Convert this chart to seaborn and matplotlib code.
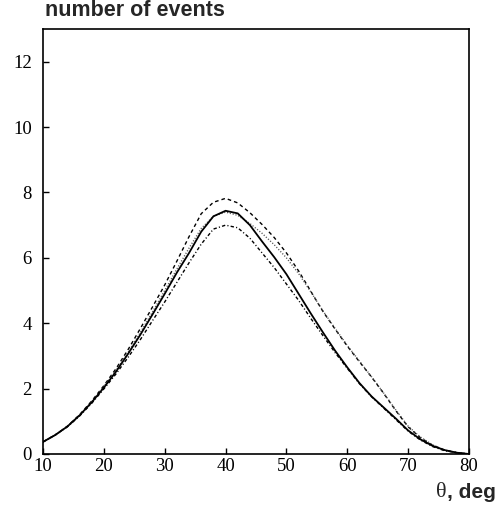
import matplotlib
matplotlib.use("Agg")
import matplotlib.pyplot as plt
import seaborn as sns
import pandas as pd

theta = [10, 12, 14, 16, 18, 20, 22, 24, 26, 28, 30, 32, 34, 36, 38, 40, 42, 44,
         46, 48, 50, 52, 54, 56, 58, 60, 62, 64, 66, 68, 70, 72, 74, 76, 78, 80]

solid = [0.37, 0.58, 0.84, 1.18, 1.58, 2.03, 2.52, 3.07, 3.65, 4.27, 4.90, 5.55,
         6.15, 6.80, 7.27, 7.44, 7.36, 7.00, 6.50, 6.02, 5.50, 4.90, 4.30, 3.72,
         3.16, 2.65, 2.17, 1.76, 1.42, 1.08, 0.72, 0.45, 0.25, 0.12, 0.04, 0.0]

dotted = [0.37, 0.58, 0.85, 1.19, 1.60, 2.06, 2.56, 3.12, 3.72, 4.35, 5.00, 5.66,
          6.30, 6.90, 7.27, 7.40, 7.30, 7.05, 6.75, 6.40, 6.00, 5.52, 4.96, 4.38,
          3.84, 3.32, 2.84, 2.36, 1.86, 1.34, 0.85, 0.52, 0.28, 0.12, 0.04, 0.0]

dashed = [0.37, 0.58, 0.85, 1.20, 1.62, 2.09, 2.61, 3.20, 3.84, 4.50, 5.17, 5.90,
          6.65, 7.35, 7.70, 7.82, 7.68, 7.38, 7.02, 6.62, 6.15, 5.60, 4.98, 4.36,
          3.82, 3.30, 2.82, 2.35, 1.85, 1.32, 0.83, 0.50, 0.27, 0.12, 0.04, 0.0]

dashdot = [0.37, 0.58, 0.83, 1.16, 1.55, 1.99, 2.45, 2.96, 3.50, 4.08, 4.65, 5.25,
           5.85, 6.42, 6.88, 7.00, 6.92, 6.60, 6.15, 5.70, 5.20, 4.70, 4.15, 3.62,
           3.10, 2.62, 2.15, 1.75, 1.40, 1.05, 0.70, 0.43, 0.23, 0.10, 0.04, 0.0]

xticks = [10, 20, 30, 40, 50, 60, 70, 80]
yticks = [0, 2, 4, 6, 8, 10, 12]
title_text = "number of events"
xlabel_sym = "θ"
xlabel_rest = ", deg"

sns.set_style("white")
plt.rcParams["font.family"] = ["Liberation Serif", "DejaVu Serif"]

fig = plt.figure(figsize=(4.96, 5.09), dpi=100)
ax = fig.add_axes([43 / 496, 1 - 454 / 509, (469 - 43) / 496, (454 - 29) / 509])

df = pd.DataFrame({"theta": theta, "solid": solid, "dotted": dotted,
                   "dashed": dashed, "dashdot": dashdot})

sns.lineplot(data=df, x="theta", y="dashed", ax=ax, color="black", lw=1.0,
             estimator=None)
ax.lines[-1].set_dashes((2.6, 2.2))
sns.lineplot(data=df, x="theta", y="dotted", ax=ax, color="#555555", lw=1.0,
             estimator=None)
ax.lines[-1].set_dashes((0.8, 1.3))
sns.lineplot(data=df, x="theta", y="dashdot", ax=ax, color="black", lw=1.0,
             estimator=None)
ax.lines[-1].set_dashes((2.4, 1.6, 0.8, 1.6))
sns.lineplot(data=df, x="theta", y="solid", ax=ax, color="black", lw=1.3,
             estimator=None)

ax.set_xlim(10, 80)
ax.set_ylim(0, 13)
ax.set_xticks(xticks)
ax.set_yticks(yticks)
ax.set_xlabel("")
ax.set_ylabel("")
for s in ax.spines.values():
    s.set_color("black")
    s.set_linewidth(1.2)
ax.tick_params(axis="both", which="both", direction="in", length=4, width=1.0,
               color="black", labelsize=13.5, labelcolor="black")
ax.tick_params(axis="x", pad=3, bottom=True, top=False)
ax.tick_params(axis="y", pad=8, left=True, right=False)

fig.text(45 / 496, 1 - 16 / 509, title_text, family="Liberation Sans",
         fontweight="bold", fontsize=15.5, va="baseline", ha="left")

t = fig.text(495.5 / 496, 1 - 498 / 509, xlabel_rest, family="Liberation Sans",
             fontweight="bold", fontsize=15, va="baseline", ha="right")
ax.annotate(xlabel_sym, xy=(0, 0), xycoords=t, xytext=(0, 0),
            textcoords="offset points", ha="right", va="bottom",
            family="Liberation Serif", fontsize=16)

fig.savefig("out.png", dpi=100)
